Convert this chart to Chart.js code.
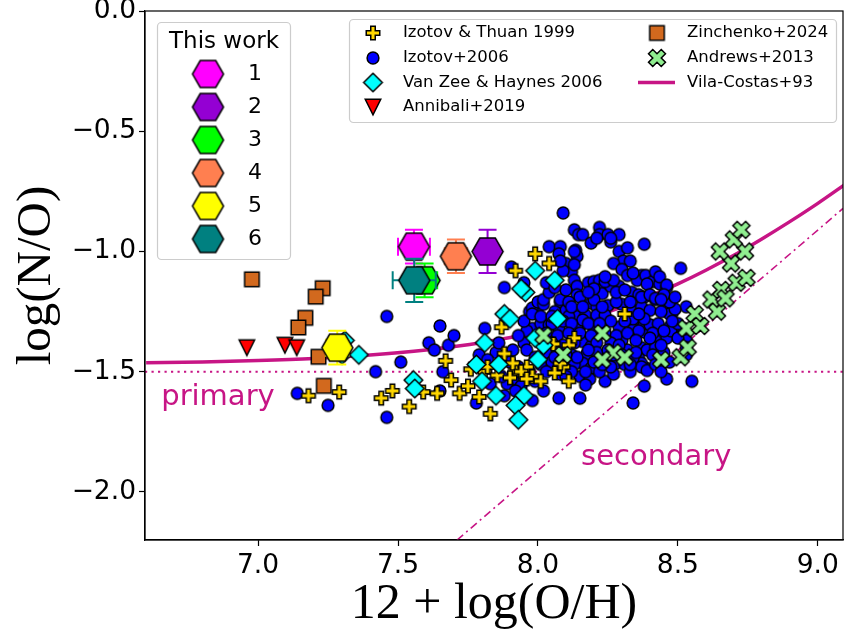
<!DOCTYPE html>
<html>
<head>
<meta charset="utf-8">
<title>log(N/O) vs 12 + log(O/H)</title>
<script src="https://cdn.jsdelivr.net/npm/chart.js@4.4.1/dist/chart.umd.min.js"></script>
<style>
  html, body { margin: 0; padding: 0; background: #ffffff; }
  #wrap { width: 844px; height: 635px; }
</style>
</head>
<body>
<div id="wrap"><canvas id="noChart" width="844" height="635"></canvas></div>
<script>
// N/O vs O/H abundance plot

/* =========================================
   DATA
========================================= */
const xTicks = [7.0, 7.5, 8.0, 8.5, 9.0];
const yTicks = [-2.0, -1.5, -1.0, -0.5, 0.0];

// This work (hexagons with error bars)
const thisWorkLabels = ["1", "2", "3", "4", "5", "6"];
const thisWorkOH = [7.557, 7.82, 7.595, 7.707, 7.283, 7.558];
const thisWorkNO = [-0.98, -1.0, -1.12, -1.02, -1.40, -1.12];
const thisWorkOHerr = [0.057, 0.03, 0.045, 0.04, 0.04, 0.077];
const thisWorkNOerr = [0.07, 0.09, 0.07, 0.07, 0.07, 0.09];

// Izotov & Thuan 1999
const izotov1999 = [
  [7.18,-1.60],[7.29,-1.585],[7.44,-1.61],[7.48,-1.58],[7.54,-1.645],[7.59,-1.585],
  [7.64,-1.59],[7.67,-1.455],[7.69,-1.535],[7.72,-1.59],[7.75,-1.56],[7.79,-1.605],
  [7.83,-1.675],[7.88,-1.425],[7.87,-1.315],[7.92,-1.495],[7.98,-1.52],[7.81,-1.50],
  [7.99,-1.01],[8.04,-1.05],[7.92,-1.08],[8.31,-1.26],[8.13,-1.36],[8.055,-1.385],
  [8.11,-1.39],[8.09,-1.48],[8.06,-1.505],[8.11,-1.54],[7.91,-1.465],[8.01,-1.54],
  [7.96,-1.48],[7.94,-1.50],[7.82,-1.48],[7.96,-1.53],[8.08,-1.465],[7.855,-1.515],
  [7.90,-1.525],[7.76,-1.49]
];

// Izotov+2006
const izotov2006 = [
  [7.14,-1.59],[7.25,-1.64],[7.42,-1.50],[7.46,-1.27],[7.46,-1.69],[7.51,-1.46],
  [7.61,-1.38],[7.63,-1.41],[7.65,-1.31],[7.68,-1.39],[7.70,-1.35],[7.66,-1.50],
  [7.65,-1.58],[7.78,-1.63],[7.79,-1.43],[7.81,-1.32],
  [7.91,-1.41],[7.95,-1.38],[7.91,-1.53],[7.89,-1.55],[7.98,-1.62],[7.97,-1.25],
  [8.00,-1.23],[7.98,-1.32],[7.96,-1.41],[7.96,-1.33],[7.85,-1.42],[7.87,-1.52],
  [7.90,-1.46],[7.93,-1.48],[7.94,-1.56],[7.97,-1.50],[7.99,-1.54],[8.01,-1.47],
  [7.88,-1.60],[7.83,-1.55],[7.82,-1.45],[7.99,-1.44],[8.01,-1.30],[7.93,-1.35],
  [7.86,-1.38],[7.95,-1.29],[7.92,-1.58],[8.02,-1.58],
  [7.905,-1.065],[7.88,-1.15],[7.95,-1.13],[7.98,-1.235],
  [8.09,-0.84],[8.13,-0.91],[8.145,-0.93],[8.16,-0.93],[8.22,-0.90],[8.22,-0.93],
  [8.25,-0.93],[8.29,-0.93],[8.19,-0.965],[8.26,-0.96],[8.38,-0.97],[8.04,-0.98],
  [8.08,-0.98],[8.075,-1.01],[8.135,-0.995],[8.14,-1.02],[8.10,-1.05],[8.12,-1.085],
  [8.13,-1.12],[8.14,-1.145],[8.14,-1.18],[8.18,-1.13],[8.20,-1.125],[8.22,-1.12],
  [8.25,-1.125],[8.22,-1.16],[8.23,-1.175],[8.19,-1.215],[8.21,-1.23],[8.25,-1.225],
  [8.29,-1.00],[8.32,-0.985],[8.305,-1.04],[8.27,-1.05],[8.33,-1.04],[8.30,-1.075],
  [8.32,-1.10],[8.37,-1.10],[8.355,-1.12],[8.385,-1.10],[8.29,-1.145],[8.335,-1.17],
  [8.36,-1.18],[8.38,-1.19],[8.41,-1.125],[8.42,-1.085],[8.26,-1.145],[8.00,-1.21],
  [8.02,-1.22],[8.08,-1.21],[8.14,-1.27],[8.17,-1.265],[8.21,-1.265],[8.24,-1.265],
  [8.34,-1.245],[8.37,-1.23],[8.40,-1.245],[8.42,-1.20],
  [8.21,-0.945],[8.26,-0.945],[8.02,-1.20],[8.08,-1.20],[8.13,-1.055],[8.09,-1.08],
  [8.08,-1.04],[8.13,-1.00],[8.15,-1.19],[8.20,-1.20],[8.10,-1.245],[8.075,-1.32],
  [8.04,-1.305],[8.15,-1.31],[8.20,-1.155],[8.24,-1.125],[8.27,-1.12],
  [8.51,-1.07],[8.34,-1.09],[8.39,-1.135],[8.435,-1.135],[8.46,-1.15],[8.37,-1.19],
  [8.40,-1.18],[8.42,-1.195],[8.45,-1.245],[8.48,-1.255],[8.53,-1.23],[8.47,-1.315],
  [8.435,-1.355],[8.46,-1.36],[8.38,-1.335],[8.37,-1.305],[8.34,-1.29],[8.29,-1.315],
  [8.30,-1.37],[8.34,-1.325],[8.37,-1.40],[8.32,-1.41],[8.39,-1.41],[8.36,-1.445],
  [8.385,-1.485],[8.24,-1.54],[8.38,-1.56],[8.46,-1.53],[8.55,-1.54],[8.34,-1.63],
  [8.51,-1.35],[8.53,-1.37],[8.52,-1.32],[8.24,-1.105],[8.23,-1.23],
  [8.435,-1.105],[8.46,-1.14],[8.475,-1.33],[8.50,-1.30],[8.42,-1.37],[8.37,-1.465],
  [8.53,-1.40],[8.53,-1.43],[8.47,-1.26],
  [7.98,-1.26],[8.14,-1.31],[8.16,-1.285],[8.20,-1.32],[8.26,-1.29],[8.34,-1.28],
  [8.36,-1.33],[8.40,-1.305],[8.16,-1.375],[8.19,-1.395],[8.175,-1.425],[8.16,-1.465],
  [8.19,-1.485],[8.15,-1.52],[8.185,-1.53],[8.245,-1.445],[8.28,-1.465],[8.34,-1.445],
  [8.37,-1.48],[8.39,-1.495],[8.075,-1.61],[8.15,-1.61],[8.11,-1.27],[8.17,-1.555],
  [8.05,-1.30],[8.09,-1.29],[8.12,-1.30],[8.18,-1.30],[8.22,-1.30],[8.31,-1.29],
  [8.38,-1.28],[8.43,-1.30],
  [8.03,-1.34],[8.07,-1.35],[8.11,-1.34],[8.15,-1.34],[8.19,-1.35],[8.24,-1.34],
  [8.28,-1.35],[8.32,-1.34],[8.41,-1.34],[8.45,-1.33],
  [8.05,-1.38],[8.09,-1.39],[8.13,-1.38],[8.21,-1.38],[8.26,-1.38],[8.29,-1.39],
  [8.35,-1.37],[8.42,-1.40],
  [8.03,-1.42],[8.07,-1.42],[8.12,-1.43],[8.21,-1.42],[8.25,-1.41],[8.30,-1.43],
  [8.35,-1.42],[8.41,-1.43],[8.45,-1.42],
  [8.05,-1.46],[8.09,-1.46],[8.13,-1.47],[8.20,-1.46],[8.31,-1.47],[8.42,-1.47],
  [8.47,-1.46],
  [8.03,-1.50],[8.08,-1.51],[8.12,-1.50],[8.22,-1.50],[8.27,-1.51],[8.33,-1.50],
  [8.44,-1.50],
  [8.06,-1.25],[8.30,-1.22],[8.44,-1.25],[8.49,-1.24],
  [8.11,-1.21],[8.28,-1.21],[8.47,-1.21],
  [8.04,-1.17],[8.10,-1.16],[8.18,-1.17],[8.45,-1.18],[8.49,-1.19],
  [8.03,-1.13],[8.06,-1.15],[8.01,-1.27],[8.05,-1.27],[8.12,-1.23],[8.16,-1.23],
  [8.28,-1.17],[8.31,-1.16],[8.33,-1.21],[8.36,-1.26],[8.40,-1.36],[8.44,-1.39],
  [8.33,-1.47],[8.26,-1.48],[8.23,-1.47],[8.17,-1.50],[8.14,-1.44],[8.10,-1.43],
  [8.06,-1.44],[8.10,-1.52],[8.18,-1.41],[8.27,-1.43],[8.44,-1.20],[8.48,-1.29],
  [8.50,-1.36]
];

// Van Zee & Haynes 2006
const vanZee2006 = [
  [7.31,-1.37],[7.30,-1.43],[7.36,-1.43],[7.555,-1.535],[7.56,-1.57],[7.81,-1.38],
  [7.78,-1.47],[7.86,-1.47],[7.80,-1.54],[7.85,-1.60],[7.95,-1.60],[7.92,-1.64],
  [7.93,-1.70],[7.88,-1.26],[7.90,-1.28],[7.99,-1.08],[8.06,-1.12],[7.955,-1.17],
  [7.94,-1.155],[8.07,-1.28],[8.00,-1.45],[8.02,-1.39],[7.99,-1.36]
];

// Annibali+2019
const annibali2019 = [[6.96,-1.40],[7.096,-1.39],[7.138,-1.40]];

// Zinchenko+2024
const zinchenko2024 = [
  [6.978,-1.116],[7.231,-1.153],[7.206,-1.188],[7.169,-1.276],[7.144,-1.316],
  [7.216,-1.438],[7.235,-1.559]
];

// Andrews+2013
const andrews2013 = [
  [8.02,-1.35],[8.09,-1.43],[8.23,-1.34],[8.27,-1.42],[8.23,-1.45],[8.31,-1.44],
  [8.44,-1.45],[8.51,-1.44],[8.535,-1.40],[8.53,-1.32],[8.56,-1.26],[8.58,-1.31],
  [8.62,-1.20],[8.64,-1.25],[8.655,-1.16],[8.67,-1.195],[8.71,-1.13],[8.745,-1.11],
  [8.69,-1.05],[8.65,-1.00],[8.74,-1.00],[8.70,-0.95],[8.727,-0.91]
];

// Vila-Costas+93 curve, primary and secondary lines
const vilaCostasOH = [6.6, 6.8, 7.0, 7.2, 7.4, 7.6, 7.8, 8.0, 8.1, 8.2, 8.3, 8.4, 8.5, 8.6, 8.7, 8.8, 8.9, 9.0, 9.1];
const vilaCostasNO = [-1.463, -1.460, -1.454, -1.445, -1.431, -1.410, -1.379, -1.334, -1.304, -1.270,
                      -1.231, -1.186, -1.135, -1.078, -1.016, -0.948, -0.876, -0.800, -0.719];
const primaryOH = [6.596, 9.09];
const primaryNO = [-1.5, -1.5];
const secondaryOH = [7.711, 9.09];
const secondaryNO = [-2.2, -0.821];

const annotationLabels = ["primary", "secondary"];
const annotationOH = [6.654, 8.154];
const annotationNO = [-1.64, -1.89];

const refLabels = ["Izotov & Thuan 1999", "Izotov+2006", "Van Zee & Haynes 2006", "Annibali+2019",
                   "Zinchenko+2024", "Andrews+2013", "Vila-Costas+93"];

/* =========================================
   STYLE
========================================= */
const FONT = '"DejaVu Sans", sans-serif';
const SERIF = '"Liberation Serif", "Times New Roman", serif';
const VIOLET = "#c71585";
const thisWorkColors = ["#ff00ff", "#9400d3", "#00ff00", "#ff7f50", "#ffff00", "#008080"];

Chart.defaults.font.family = FONT;

/* =========================================
   MARKER IMAGES (matplotlib-like)
========================================= */
function makeMarker(shape, fill, size) {
  const pad = 2;
  const dim = Math.ceil(size + 2 * pad);
  const c = document.createElement("canvas");
  c.width = dim;
  c.height = dim;
  const g = c.getContext("2d");
  g.translate(dim / 2, dim / 2);
  const h = size / 2;
  g.beginPath();
  if (shape === "circle") {
    g.arc(0, 0, h, 0, Math.PI * 2);
  } else if (shape === "diamond") {
    g.moveTo(0, -h); g.lineTo(h, 0); g.lineTo(0, h); g.lineTo(-h, 0); g.closePath();
  } else if (shape === "square") {
    g.rect(-h, -h, size, size);
  } else if (shape === "triDown") {
    g.moveTo(-h, -h); g.lineTo(h, -h); g.lineTo(0, h); g.closePath();
  } else if (shape === "hexagon") {
    for (let i = 0; i < 6; i++) {
      const a = i * Math.PI / 3;
      if (i === 0) g.moveTo(h * Math.cos(a), h * Math.sin(a));
      else g.lineTo(h * Math.cos(a), h * Math.sin(a));
    }
    g.closePath();
  } else {
    // filled plus ('P') or filled x ('X')
    if (shape === "x") g.rotate(Math.PI / 4);
    const w = h / 3;
    const pts = [[-w,-h],[w,-h],[w,-w],[h,-w],[h,w],[w,w],[w,h],[-w,h],[-w,w],[-h,w],[-h,-w],[-w,-w]];
    pts.forEach(([px, py], i) => (i === 0 ? g.moveTo(px, py) : g.lineTo(px, py)));
    g.closePath();
  }
  g.fillStyle = fill;
  g.fill();
  g.lineWidth = 1.5;
  g.lineJoin = "miter";
  g.strokeStyle = "#000000";
  g.stroke();
  return c;
}

const plusImg = makeMarker("plus", "#ffd700", 13.5);
const circleImg = makeMarker("circle", "#0000ff", 11.8);
const diamondImg = makeMarker("diamond", "#00ffff", 18.6);
const triImg = makeMarker("triDown", "#ff0000", 15.5);
const squareImg = makeMarker("square", "#d2691e", 14.5);
const xImg = makeMarker("x", "#90ee90", 18);
const hexImgs = thisWorkColors.map(col => makeMarker("hexagon", col, 31));

/* =========================================
   DATASETS
========================================= */
const toPoints = pairs => pairs.map(([x, y]) => ({ x, y }));
const zip = (xs, ys) => xs.map((x, i) => ({ x, y: ys[i] }));

function markerSet(label, pairs, img, order) {
  return {
    label,
    data: toPoints(pairs),
    pointStyle: img,
    pointRadius: 7,
    pointHoverRadius: 7,
    order
  };
}

const datasets = [];

// This work: hexagon 6 on top of 3
thisWorkLabels.forEach((lab, i) => {
  datasets.push({
    label: lab,
    data: [{ x: thisWorkOH[i], y: thisWorkNO[i] }],
    errors: [{ xerr: thisWorkOHerr[i], yerr: thisWorkNOerr[i] }],
    errorColor: thisWorkColors[i],
    pointStyle: hexImgs[i],
    pointRadius: 10,
    pointHoverRadius: 10,
    order: 6 - i
  });
});

datasets.push(markerSet(refLabels[5], andrews2013, xImg, 10));
datasets.push(markerSet(refLabels[4], zinchenko2024, squareImg, 11));
datasets.push(markerSet(refLabels[3], annibali2019, triImg, 12));
datasets.push(markerSet(refLabels[2], vanZee2006, diamondImg, 13));
datasets.push(markerSet(refLabels[0], izotov1999, plusImg, 14));
datasets.push(markerSet(refLabels[1], izotov2006, circleImg, 15));

datasets.push({
  label: refLabels[6],
  data: zip(vilaCostasOH, vilaCostasNO),
  showLine: true,
  pointRadius: 0,
  borderColor: VIOLET,
  borderWidth: 3.5,
  cubicInterpolationMode: "monotone",
  clip: 0,
  order: 16
});
datasets.push({
  label: "primary",
  data: zip(primaryOH, primaryNO),
  showLine: true,
  pointRadius: 0,
  borderColor: VIOLET,
  borderWidth: 2,
  borderDash: [2.2, 4.3],
  order: 17
});
datasets.push({
  label: "secondary",
  data: zip(secondaryOH, secondaryNO),
  showLine: true,
  pointRadius: 0,
  borderColor: VIOLET,
  borderWidth: 1.6,
  borderDash: [8, 4, 2, 4],
  order: 18
});

/* =========================================
   PLUGINS
========================================= */
const errorBarPlugin = {
  id: "errorBars",
  beforeDatasetDraw(chart, args) {
    const ds = chart.data.datasets[args.index];
    if (!ds.errors) return;
    const { ctx, scales: { x, y } } = chart;
    const cap = 9;
    ctx.save();
    ctx.strokeStyle = ds.errorColor;
    ctx.lineWidth = 2;
    ds.data.forEach((p, i) => {
      const e = ds.errors[i];
      const cx = x.getPixelForValue(p.x);
      const cy = y.getPixelForValue(p.y);
      const x0 = x.getPixelForValue(p.x - e.xerr);
      const x1 = x.getPixelForValue(p.x + e.xerr);
      const y0 = y.getPixelForValue(p.y - e.yerr);
      const y1 = y.getPixelForValue(p.y + e.yerr);
      ctx.beginPath();
      ctx.moveTo(x0, cy); ctx.lineTo(x1, cy);
      ctx.moveTo(cx, y0); ctx.lineTo(cx, y1);
      ctx.moveTo(x0, cy - cap); ctx.lineTo(x0, cy + cap);
      ctx.moveTo(x1, cy - cap); ctx.lineTo(x1, cy + cap);
      ctx.moveTo(cx - cap, y0); ctx.lineTo(cx + cap, y0);
      ctx.moveTo(cx - cap, y1); ctx.lineTo(cx + cap, y1);
      ctx.stroke();
    });
    ctx.restore();
  }
};

function legendFrame(ctx, x, y, w, h) {
  const r = 4;
  ctx.beginPath();
  ctx.moveTo(x + r, y);
  ctx.lineTo(x + w - r, y);
  ctx.arcTo(x + w, y, x + w, y + r, r);
  ctx.lineTo(x + w, y + h - r);
  ctx.arcTo(x + w, y + h, x + w - r, y + h, r);
  ctx.lineTo(x + r, y + h);
  ctx.arcTo(x, y + h, x, y + h - r, r);
  ctx.lineTo(x, y + r);
  ctx.arcTo(x, y, x + r, y, r);
  ctx.closePath();
  ctx.fillStyle = "rgba(255,255,255,0.85)";
  ctx.fill();
  ctx.strokeStyle = "#cccccc";
  ctx.lineWidth = 1.2;
  ctx.stroke();
}

function drawImg(ctx, img, x, y) {
  ctx.drawImage(img, x - img.width / 2, y - img.height / 2);
}

const overlayPlugin = {
  id: "overlay",
  afterDraw(chart) {
    const { ctx, chartArea: a, scales: { x, y } } = chart;
    ctx.save();

    // full frame
    ctx.strokeStyle = "#000000";
    ctx.lineWidth = 1.2;
    ctx.strokeRect(a.left, a.top, a.right - a.left, a.bottom - a.top);

    // primary / secondary labels
    ctx.fillStyle = VIOLET;
    ctx.font = "29px " + FONT;
    ctx.textAlign = "left";
    ctx.textBaseline = "alphabetic";
    annotationLabels.forEach((t, i) => {
      ctx.fillText(t, x.getPixelForValue(annotationOH[i]), y.getPixelForValue(annotationNO[i]));
    });

    // "This work" legend
    legendFrame(ctx, 157.5, 22.5, 133, 237);
    ctx.fillStyle = "#000000";
    ctx.textBaseline = "middle";
    ctx.textAlign = "center";
    ctx.font = "23px " + FONT;
    ctx.fillText("This work", 224, 42);
    ctx.textAlign = "left";
    ctx.font = "22px " + FONT;
    thisWorkLabels.forEach((lab, i) => {
      const ry = 74 + i * 33;
      drawImg(ctx, hexImgs[i], 208, ry);
      ctx.fillText(lab, 248, ry);
    });

    // reference legend
    legendFrame(ctx, 349.5, 19.5, 487, 103);
    ctx.fillStyle = "#000000";
    ctx.textAlign = "left";
    ctx.textBaseline = "middle";
    ctx.font = "16.5px " + FONT;
    const rows = [33, 58, 82.5, 107];
    const col1 = [plusImg, circleImg, diamondImg, triImg];
    col1.forEach((img, i) => {
      drawImg(ctx, img, 373, rows[i]);
      ctx.fillText(refLabels[i], 403, rows[i]);
    });
    drawImg(ctx, squareImg, 657, rows[0]);
    ctx.fillText(refLabels[4], 687, rows[0]);
    drawImg(ctx, xImg, 657, rows[1]);
    ctx.fillText(refLabels[5], 687, rows[1]);
    ctx.fillText(refLabels[6], 687, rows[2]);
    ctx.strokeStyle = VIOLET;
    ctx.lineWidth = 3.5;
    ctx.beginPath();
    ctx.moveTo(638, rows[2]);
    ctx.lineTo(675, rows[2]);
    ctx.stroke();

    ctx.restore();
  }
};

/* =========================================
   CHART
========================================= */
function fmtTick(v) {
  const s = Math.abs(v).toFixed(1);
  return v < -1e-9 ? "\u2212" + s : s;
}

const axisCommon = {
  type: "linear",
  grid: {
    display: true,
    drawOnChartArea: false,
    drawTicks: true,
    tickLength: 6,
    tickColor: "#000000",
    tickWidth: 1.2
  },
  border: { display: true, color: "#000000", width: 1.2 }
};

new Chart(document.getElementById("noChart").getContext("2d"), {
  type: "scatter",
  data: { datasets },
  options: {
    responsive: false,
    animation: false,
    devicePixelRatio: 1,
    layout: { autoPadding: false, padding: { top: 11, right: 1, left: 0, bottom: 0 } },
    plugins: {
      legend: { display: false },
      tooltip: { enabled: false }
    },
    scales: {
      x: {
        ...axisCommon,
        min: 6.596,
        max: 9.09,
        afterBuildTicks: s => { s.ticks = xTicks.map(v => ({ value: v })); },
        afterFit: s => {
          s.height = 95;
          s.paddingLeft = 0;
          s.paddingRight = 0;
        },
        ticks: {
          callback: v => fmtTick(v),
          font: { family: FONT, size: 26.5 },
          color: "#000000",
          padding: 4,
          maxRotation: 0,
          autoSkip: false
        },
        title: {
          display: true,
          text: "12 + log(O/H)",
          font: { family: SERIF, size: 50 },
          color: "#000000",
          padding: { top: 0, bottom: 0 }
        }
      },
      y: {
        ...axisCommon,
        min: -2.2,
        max: 0.0,
        afterBuildTicks: s => { s.ticks = yTicks.map(v => ({ value: v })); },
        afterFit: s => {
          s.width = 145;
          s.paddingTop = 0;
          s.paddingBottom = 0;
        },
        ticks: {
          callback: v => fmtTick(v),
          font: { family: FONT, size: 26.5 },
          color: "#000000",
          padding: 3,
          autoSkip: false
        },
        title: {
          display: true,
          text: "log(N/O)",
          font: { family: SERIF, size: 49 },
          color: "#000000",
          padding: { top: 8, bottom: 0 }
        }
      }
    }
  },
  plugins: [errorBarPlugin, overlayPlugin]
});
</script>
</body>
</html>
